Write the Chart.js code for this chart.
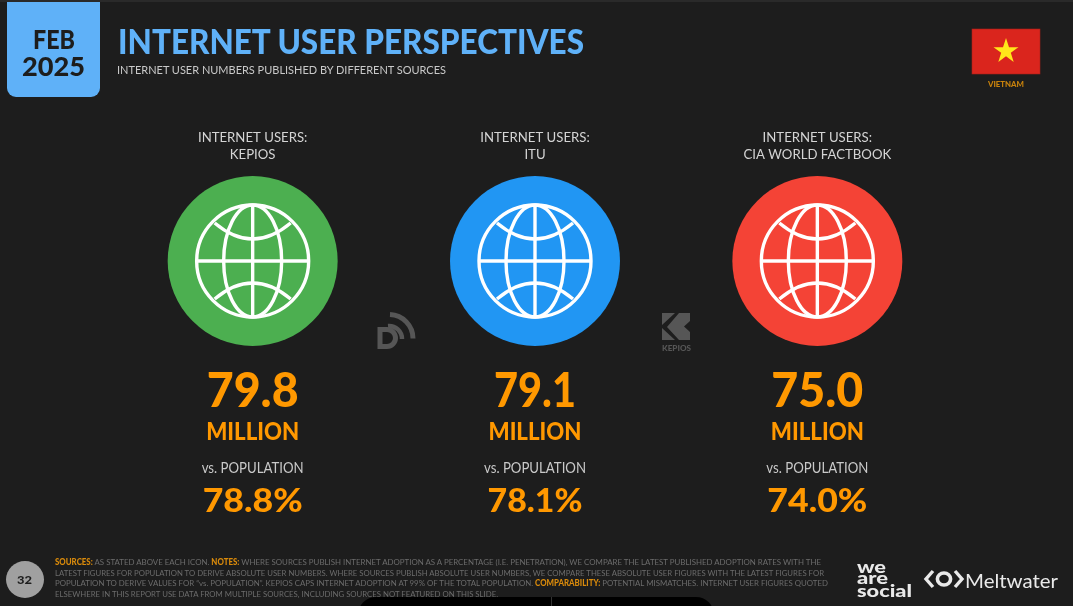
<!DOCTYPE html>
<html><head><meta charset="utf-8">
<script src="https://cdn.jsdelivr.net/npm/chart.js@4/dist/chart.umd.min.js"></script>
<style>
html,body{margin:0;padding:0;background:#1d1d1d;overflow:hidden}
#stage{position:relative;width:1073px;height:606px;background:#1d1d1d;overflow:hidden;font-family:Lato,sans-serif}
canvas{position:absolute;left:0;top:0}
.t{position:absolute;white-space:nowrap;transform-origin:0 50%;line-height:1}
.foot{color:#6c6c6c;font-size:8.4px;font-weight:400}
.foot b{color:#d98a0b;font-weight:900}
#strip{position:absolute;left:0;top:0;width:1073px;height:2px;background:#2a2a2a}
#date{position:absolute;left:7px;top:2px;width:93px;height:95px;background:#5fb1f8;border-radius:0 0 9px 9px}
#tab{position:absolute;left:358px;top:597px;width:356px;height:20px;background:#000;border-radius:18px 18px 0 0}
#tabline{position:absolute;left:551px;top:597px;width:1px;height:9px;background:#333}
#page{position:absolute;left:6px;top:561px;width:38px;height:37px;border-radius:50%;background:#a0a0a0}
svg{position:absolute;overflow:visible}
</style></head>
<body><div id="stage">
<div id="strip"></div><div id="date"></div><div id="tab"></div><div id="tabline"></div><div id="page"></div>
<canvas id="c" width="1073" height="606"></canvas>
<div class="t" data-x="33" data-y="38" data-w="42" style="font-size:27px;font-weight:900;color:#1d1d1d">FEB</div>
<div class="t" data-x="22" data-y="65" data-w="63" style="font-size:27px;font-weight:900;color:#1d1d1d">2025</div>
<div class="t" data-x="118" data-y="40" data-w="466" style="font-size:35px;font-weight:900;color:#5fb1f8">INTERNET USER PERSPECTIVES</div>
<div class="t" data-x="117" data-y="70" data-w="329" style="font-size:12px;color:#c9c9c9">INTERNET USER NUMBERS PUBLISHED BY DIFFERENT SOURCES</div>
<div class="t" data-x="988" data-y="85" data-w="36" style="font-size:7.5px;font-weight:900;color:#c8820c">VIETNAM</div>
<div class="t" data-x="17" data-y="580" data-w="15" style="font-size:12px;font-weight:900;color:#1d1d1d">32</div>
<div class="t foot" data-x="55" data-y="562" data-w="766"><b>SOURCES:</b> AS STATED ABOVE EACH ICON. <b>NOTES:</b> WHERE SOURCES PUBLISH INTERNET ADOPTION AS A PERCENTAGE (I.E. PENETRATION), WE COMPARE THE LATEST PUBLISHED ADOPTION RATES WITH THE</div>
<div class="t foot" data-x="55" data-y="573" data-w="769">LATEST FIGURES FOR POPULATION TO DERIVE ABSOLUTE USER NUMBERS. WHERE SOURCES PUBLISH ABSOLUTE USER NUMBERS, WE COMPARE THESE ABSOLUTE USER FIGURES WITH THE LATEST FIGURES FOR</div>
<div class="t foot" data-x="55" data-y="583" data-w="773">POPULATION TO DERIVE VALUES FOR “vs. POPULATION”. KEPIOS CAPS INTERNET ADOPTION AT 99% OF THE TOTAL POPULATION. <b>COMPARABILITY:</b> POTENTIAL MISMATCHES. INTERNET USER FIGURES QUOTED</div>
<div class="t foot" data-x="55" data-y="594" data-w="443">ELSEWHERE IN THIS REPORT USE DATA FROM MULTIPLE SOURCES, INCLUDING SOURCES NOT FEATURED ON THIS SLIDE.</div>
<div class="t" data-x="857" data-y="567" data-w="29" style="font-size:16px;font-weight:900;color:#e9e9e9">we</div>
<div class="t" data-x="857" data-y="578" data-w="31" style="font-size:16px;font-weight:900;color:#e9e9e9">are</div>
<div class="t" data-x="857" data-y="591" data-w="55" style="font-size:16px;font-weight:900;color:#e9e9e9">social</div>
<div class="t" data-x="965" data-y="580" data-w="93" style="font-size:20px;font-weight:400;color:#e9e9e9">Meltwater</div>
<svg style="left:0;top:0" width="1073" height="606">
 <rect x="972" y="29" width="68" height="45" fill="#da251d" stroke="#a81e18" stroke-width=".6"/>
 <polygon points="1006,38 1009,47.2 1018.5,47.2 1010.8,52.8 1013.7,62 1006,56.3 998.3,62 1001.2,52.8 993.5,47.2 1003,47.2" fill="#ffe71a"/>
 <g fill="none" stroke="#e9e9e9">
  <path d="M933 571 L926 579 L933 587 M955 571 L962 579 L955 587" stroke-width="3.4"/>
  <ellipse cx="944" cy="579" rx="6.6" ry="6" stroke-width="3.6"/>
 </g>
 <g fill="none" stroke="#565656">
  <path d="M380 329.5 h7 a8.5 8.5 0 0 1 0 17 h-7 z" stroke-width="5"/>
  <path d="M388 326 a13 13 0 0 1 14 13" stroke-width="4.5"/>
  <path d="M390 314.5 a24 24 0 0 1 23 24" stroke-width="5"/>
 </g>
 <g fill="#565656">
  <polygon points="662,313 675,313 662,325"/>
  <polygon points="662,328 662,340 675,340"/>
  <polygon points="679,313 690,313 690,321 684,326.5 690,332 690,340 679,340 667,327"/>
 </g>
</svg>
<div class="t" data-x="662" data-y="349" data-w="29" style="font-size:7.5px;font-weight:900;color:#565656">KEPIOS</div>
</div>
<script>
// ---- data ----
const sources = [['INTERNET USERS:','KEPIOS'],['INTERNET USERS:','ITU'],['INTERNET USERS:','CIA WORLD FACTBOOK']];
const usersMillions = [79.8, 79.1, 75.0];
const populationShare = [78.8, 78.1, 74.0];
const circleColors = ['#4caf50','#2196f3','#f44336'];
const unitLabel = 'MILLION';
const versusLabel = 'vs. POPULATION';
const sourceKeys = sources.map(s => s.join(' '));
const ORANGE = '#ff9800';

document.querySelectorAll('.t').forEach(el => {
  const r = el.getBoundingClientRect();
  el.style.left = el.dataset.x + 'px';
  el.style.top = (el.dataset.y - r.height/2) + 'px';
  el.style.transform = 'scaleX(' + (el.dataset.w / r.width) + ')';
});

function fitText(ctx, text, cx, cy, font, color, width){
  ctx.save();
  ctx.font = font; ctx.fillStyle = color; ctx.textBaseline = 'middle'; ctx.textAlign = 'center';
  const w = ctx.measureText(text).width;
  ctx.translate(cx, cy); ctx.scale(width / w, 1);
  ctx.fillText(text, 0, 0);
  ctx.restore();
}

const globePlugin = {
  id: 'globe',
  afterDatasetsDraw(chart){
    const ctx = chart.ctx;
    chart.getDatasetMeta(0).data.forEach(pt => {
      const x = pt.x, y = pt.y, R = 56;
      ctx.save();
      ctx.strokeStyle = '#fff'; ctx.lineWidth = 3.4;
      ctx.beginPath(); ctx.arc(x, y, R, 0, Math.PI*2); ctx.stroke();
      ctx.beginPath(); ctx.moveTo(x-R, y); ctx.lineTo(x+R, y); ctx.stroke();
      ctx.beginPath(); ctx.moveTo(x, y-R); ctx.lineTo(x, y+R); ctx.stroke();
      ctx.beginPath(); ctx.ellipse(x, y, 29, R, 0, 0, Math.PI*2); ctx.stroke();
      ctx.beginPath(); ctx.moveTo(x-38, y-38);
      ctx.quadraticCurveTo(x, y-6, x+38, y-38); ctx.stroke();
      ctx.beginPath(); ctx.moveTo(x-38, y+38);
      ctx.quadraticCurveTo(x, y+6, x+38, y+38); ctx.stroke();
      ctx.restore();
    });
  }
};

const labelPlugin = {
  id: 'bigLabels',
  afterDraw(chart){
    const ctx = chart.ctx;
    chart.getDatasetMeta(0).data.forEach((pt, i) => {
      const x = pt.x;
      fitText(ctx, usersMillions[i].toFixed(1), x, 392, '900 47px Lato', ORANGE, i===1 ? 82 : 92);
      fitText(ctx, unitLabel, x, 432, '900 24px Lato', ORANGE, 93);
      fitText(ctx, versusLabel, x, 468, '400 14.5px Lato', '#c9c9c9', 102);
      fitText(ctx, populationShare[i].toFixed(1) + '%', x, 501.5, '900 33px Lato', ORANGE, i===1 ? 95 : 100);
    });
  }
};

new Chart(document.getElementById('c'), {
  type: 'scatter',
  data: {
    labels: sourceKeys,
    datasets: [{
      data: sourceKeys.map((k, i) => ({x: k, y: 'users', value: usersMillions[i]})),
      backgroundColor: circleColors,
      borderWidth: 0,
      pointRadius: 85,
      pointHoverRadius: 85
    }]
  },
  options: {
    responsive: false,
    animation: false,
    events: [],
    layout: {padding: {left: 111.5, right: 114.5, top: 127, bottom: 254}},
    plugins: {legend: {display: false}, tooltip: {enabled: false}, title: {display: false}},
    scales: {
      x: {
        type: 'category', labels: sourceKeys, position: 'top', offset: true,
        grid: {display: false}, border: {display: false},
        afterFit(s){ s.height = 43; },
        ticks: {
          padding: -1.5, maxRotation: 0, autoSkip: false,
          color: '#d4d4d4', font: {family: 'Lato', size: 13.2, lineHeight: 1.3},
          callback(v, i){ return sources[i]; }
        }
      },
      y: {
        type: 'category', labels: ['users'], offset: true, display: false
      }
    }
  },
  plugins: [globePlugin, labelPlugin]
});
</script>
</body></html>
